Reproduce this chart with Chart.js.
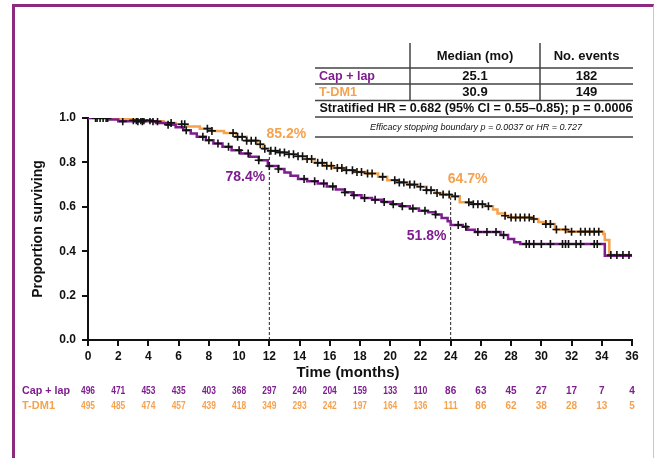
<!DOCTYPE html>
<html>
<head>
<meta charset="utf-8">
<script src="https://cdn.jsdelivr.net/npm/chart.js@4.4.1/dist/chart.umd.min.js"></script>
<style>
  html, body { margin: 0; padding: 0; background: #fff; }
  #wrap { position: relative; width: 654px; height: 458px; overflow: hidden; }
  #frame {
    position: absolute; left: 12px; top: 4px; right: 0; bottom: -6px;
    border-top: 3px solid #8b2a7e; border-left: 3px solid #8b2a7e; border-right: 1px solid #c8c8c8;
    pointer-events: none;
  }
</style>
</head>
<body>
<div id="wrap">
  <canvas id="kmChart" width="654" height="458"></canvas>
  <div id="frame"></div>
</div>
<script>
const PURPLE = '#7e1e8e';
const ORANGE = '#f5a24e';
const FONT = "'Liberation Sans', Arial, sans-serif";

// Kaplan-Meier steps: month at which the curve steps, proportion surviving from then on
const capLapTimes = [0, 1.4, 2.0, 4.5, 5.2, 5.8, 6.3, 6.8, 7.2, 7.8, 8.3, 8.9, 9.5, 10.1, 10.7, 11.3, 11.9,
  12.6, 13.0, 13.4, 13.9, 14.5, 15.2, 15.8, 16.4, 17.0, 17.5, 18.1, 18.8, 19.5, 20.1, 20.7, 21.3, 21.9,
  22.5, 23.0, 23.4, 23.8, 24.0, 24.8, 25.1, 25.6, 27.3, 27.8, 28.2, 28.6, 34.2, 36];
const capLapSurv = [1.0, 0.993, 0.985, 0.978, 0.97, 0.958, 0.945, 0.93, 0.915, 0.9, 0.885, 0.87, 0.855, 0.84, 0.825, 0.81, 0.784,
  0.77, 0.755, 0.74, 0.725, 0.715, 0.705, 0.692, 0.678, 0.665, 0.652, 0.64, 0.632, 0.622, 0.612, 0.603, 0.592, 0.582,
  0.575, 0.565, 0.55, 0.535, 0.518, 0.51, 0.497, 0.487, 0.473, 0.455, 0.44, 0.432, 0.38, 0.38];

const tdm1Times = [0, 1.8, 3.0, 4.2, 5.0, 5.8, 6.6, 7.4, 8.2, 9.0, 9.8, 10.5, 11.2, 11.6, 12.0, 12.6, 13.2, 13.8,
  14.4, 15.0, 15.6, 16.2, 16.9, 17.6, 18.4, 19.2, 19.8, 20.5, 21.2, 21.8, 22.4, 23.0, 23.5, 24.0, 24.6,
  25.4, 26.2, 26.8, 27.1, 27.6, 28.0, 29.4, 29.8, 30.3, 30.9, 31.7, 34.1, 34.2, 34.5, 36];
const tdm1Surv = [1.0, 0.995, 0.99, 0.985, 0.978, 0.972, 0.962, 0.952, 0.942, 0.932, 0.915, 0.898, 0.882, 0.862, 0.852, 0.845, 0.837, 0.828,
  0.815, 0.798, 0.785, 0.775, 0.765, 0.757, 0.75, 0.735, 0.72, 0.71, 0.70, 0.69, 0.675, 0.662, 0.655, 0.647, 0.62,
  0.612, 0.603, 0.588, 0.57, 0.56, 0.552, 0.545, 0.532, 0.522, 0.498, 0.488, 0.478, 0.45, 0.383, 0.383];

// censored observations (months)
const capLapCensored = [0.6, 1.0, 1.3, 2.3, 3.3, 3.6, 4.3, 5.3, 6.5, 7.6, 8.0, 8.6, 9.3, 10.0, 10.6, 11.3, 12.0, 12.6,
  14.3, 15.0, 15.6, 16.2, 17.0, 17.6, 18.3, 19.0, 19.6, 20.2, 20.8, 21.5, 22.3, 23.0, 24.5, 25.0, 25.8, 26.4,
  27.0, 27.5, 29.0, 29.2, 29.5, 30.0, 30.6, 31.4, 31.6, 31.8, 32.3, 32.6, 33.5, 33.7];
const tdm1Censored = [0.5, 0.8, 1.2, 3.0, 3.2, 3.5, 3.7, 4.1, 4.6, 5.5, 6.2, 6.4, 7.9, 8.2, 9.6, 9.9, 10.2, 10.5, 10.8,
  11.1, 11.4, 11.7, 12.1, 12.4, 12.7, 13.0, 13.3, 13.6, 13.9, 14.2, 14.5, 14.8, 15.2, 15.5, 15.8, 16.1, 16.5,
  16.8, 17.1, 17.5, 17.8, 18.1, 18.5, 18.8, 19.5, 20.3, 20.6, 20.9, 21.3, 21.6, 22.0, 22.4, 22.7, 23.1, 23.5,
  23.9, 24.3, 25.2, 25.5, 25.8, 26.1, 26.5, 27.6, 28.0, 28.3, 28.6, 28.9, 29.2, 29.5, 30.3, 30.6, 31.0, 31.6,
  32.0, 32.6, 32.9, 33.2, 33.5, 33.8, 34.6, 35.0, 35.4, 35.8];

const landmarkMonths = [12, 24];
const tdm1Landmark = [0.852, 0.647];
const capLapLandmark = [0.784, 0.518];

const riskMonths = [0, 2, 4, 6, 8, 10, 12, 14, 16, 18, 20, 22, 24, 26, 28, 30, 32, 34, 36];
const capLapAtRisk = [496, 471, 453, 435, 403, 368, 297, 240, 204, 159, 133, 110, 86, 63, 45, 27, 17, 7, 4];
const tdm1AtRisk = [495, 485, 474, 457, 439, 418, 349, 293, 242, 197, 164, 136, 111, 86, 62, 38, 28, 13, 5];

const armNames = ['Cap + lap', 'T-DM1'];
const tableHeaders = ['Median (mo)', 'No. events'];
const medianMonths = ['25.1', '30.9'];
const numEvents = ['182', '149'];
const hrText = 'Stratified HR = 0.682 (95% CI = 0.55\u20130.85); p = 0.0006';
const boundaryText = 'Efficacy stopping boundary p = 0.0037 or HR = 0.727';

const yTicks = [0, 0.2, 0.4, 0.6, 0.8, 1.0];

function survAt(times, surv, t) {
  let s = surv[0];
  for (let i = 0; i < times.length; i++) if (times[i] <= t) s = surv[i];
  return s;
}
const toPoints = (times, surv) => times.map((t, i) => ({ x: t, y: surv[i] }));
const censorPoints = (cens, times, surv) => cens.map(t => ({ x: t, y: survAt(times, surv, t) }));

const landmarkSets = landmarkMonths.map((m, i) => ({
  type: 'line',
  data: [{ x: m, y: 0 }, { x: m, y: tdm1Landmark[i] }],
  borderColor: '#222', borderWidth: 1, borderDash: [3, 2],
  pointRadius: 0, fill: false,
}));

const censorStyle = {
  type: 'scatter', pointStyle: 'cross', pointRadius: 4, pointBorderWidth: 1.6,
  borderColor: '#111', backgroundColor: '#111', showLine: false,
};

// tabla, etiquetas y números en riesgo
const kmText = {
  id: 'kmText',
  afterDraw(chart) {
    const { ctx, scales: { x, y } } = chart;
    ctx.save();
    ctx.textBaseline = 'middle';

    // % at landmarks
    ctx.font = `bold 14px ${FONT}`;
    ctx.textAlign = 'center';
    landmarkMonths.forEach((m, i) => {
      ctx.fillStyle = ORANGE;
      ctx.fillText(`${(tdm1Landmark[i] * 100).toFixed(1)}%`, x.getPixelForValue(m) + 17, y.getPixelForValue(tdm1Landmark[i]) - 17);
      ctx.fillStyle = PURPLE;
      ctx.fillText(`${(capLapLandmark[i] * 100).toFixed(1)}%`, x.getPixelForValue(m) - 24, y.getPixelForValue(capLapLandmark[i]) + 11);
    });

    // axis titles
    ctx.fillStyle = '#111';
    ctx.font = `bold 15px ${FONT}`;
    ctx.fillText('Time (months)', (x.left + x.right) / 2 - 12, 373, 108);
    ctx.save();
    ctx.translate(38, 229);
    ctx.rotate(-Math.PI / 2);
    ctx.font = `bold 14px ${FONT}`;
    ctx.fillText('Proportion surviving', 0, 0);
    ctx.restore();

    // numbers at risk
    const rows = [[capLapAtRisk, PURPLE, 391], [tdm1AtRisk, ORANGE, 406]];
    rows.forEach(([vals, color, py], r) => {
      ctx.fillStyle = color;
      ctx.textAlign = 'left';
      ctx.font = `bold 11px ${FONT}`;
      ctx.fillText(armNames[r], 22, py, 48);
      ctx.textAlign = 'center';
      ctx.font = `bold 10px ${FONT}`;
      vals.forEach((v, i) => ctx.fillText(String(v), x.getPixelForValue(riskMonths[i]), py, 14));
    });

    // summary table
    const L = 315, R = 633, c1 = 410, c2 = 540;
    ctx.strokeStyle = '#444';
    ctx.lineWidth = 1.5;
    ctx.beginPath();
    [68, 84, 100.5, 117, 137].forEach(ly => { ctx.moveTo(L, ly); ctx.lineTo(R, ly); });
    [c1, c2].forEach(lx => { ctx.moveTo(lx, 43); ctx.lineTo(lx, 100.5); });
    ctx.stroke();

    ctx.font = `bold 13px ${FONT}`;
    ctx.fillStyle = '#111';
    ctx.textAlign = 'center';
    ctx.fillText(tableHeaders[0], (c1 + c2) / 2, 56, 78);
    ctx.fillText(tableHeaders[1], (c2 + R) / 2, 56, 80);
    [[76, PURPLE], [92, ORANGE]].forEach(([py, color], r) => {
      ctx.textAlign = 'left';
      ctx.fillStyle = color;
      ctx.fillText(armNames[r], 319, py, r === 0 ? 56 : 38);
      ctx.textAlign = 'center';
      ctx.fillStyle = '#111';
      ctx.fillText(medianMonths[r], (c1 + c2) / 2, py);
      ctx.fillText(numEvents[r], (c2 + R) / 2, py);
    });
    ctx.fillText(hrText, (L + R) / 2 + 2, 108.5, 313);
    ctx.font = `italic 9px ${FONT}`;
    ctx.fillText(boundaryText, 476, 127, 228);
    ctx.restore();
  }
};

new Chart(document.getElementById('kmChart'), {
  data: {
    datasets: [
      { ...censorStyle, data: censorPoints(capLapCensored, capLapTimes, capLapSurv) },
      { ...censorStyle, data: censorPoints(tdm1Censored, tdm1Times, tdm1Surv) },
      {
        type: 'line', label: armNames[0], data: toPoints(capLapTimes, capLapSurv),
        borderColor: PURPLE, borderWidth: 2.5, stepped: true, pointRadius: 0, fill: false,
      },
      {
        type: 'line', label: armNames[1], data: toPoints(tdm1Times, tdm1Surv),
        borderColor: ORANGE, borderWidth: 2.5, stepped: true, pointRadius: 0, fill: false,
      },
      ...landmarkSets,
    ]
  },
  options: {
    responsive: false,
    animation: false,
    layout: { padding: { top: 118, right: 22, bottom: 0, left: 0 } },
    plugins: { legend: { display: false }, tooltip: { enabled: false } },
    scales: {
      x: {
        type: 'linear', min: 0, max: 36,
        afterFit: (s) => { s.height = 118; },
        afterBuildTicks: (s) => { s.ticks = riskMonths.map(v => ({ value: v })); },
        border: { display: true, color: '#111', width: 2 },
        grid: { drawOnChartArea: false, drawTicks: true, tickLength: 6, color: '#111', lineWidth: 2 },
        ticks: {
          autoSkip: false, maxRotation: 0, padding: 3, color: '#111',
          font: { family: FONT, size: 12, weight: 'bold' },
        }
      },
      y: {
        type: 'linear', min: 0, max: 1,
        afterFit: (s) => { s.width = 88; },
        afterBuildTicks: (s) => { s.ticks = yTicks.map(v => ({ value: v })); },
        border: { display: true, color: '#111', width: 2 },
        grid: { drawOnChartArea: false, drawTicks: true, tickLength: 6, color: '#111', lineWidth: 2 },
        ticks: {
          padding: 6, color: '#111',
          font: { family: FONT, size: 12, weight: 'bold' },
          callback: (v) => Number(v).toFixed(1),
        }
      }
    }
  },
  plugins: [kmText]
});
</script>
</body>
</html>
